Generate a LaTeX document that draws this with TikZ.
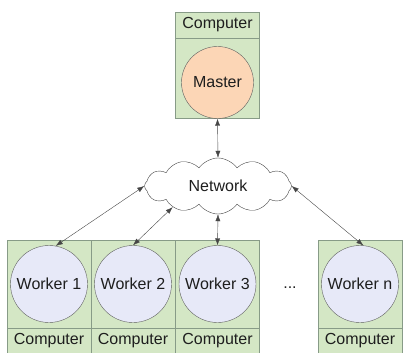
\documentclass[tikz,border=0pt]{standalone}
\usepackage{fontspec}
\setmainfont{Liberation Sans}
\usetikzlibrary{shapes.symbols,arrows.meta}
\definecolor{boxfill}{RGB}{212,231,197}
\definecolor{boxline}{RGB}{135,155,135}
\definecolor{masterfill}{RGB}{252,214,182}
\definecolor{workerfill}{RGB}{231,233,248}
\definecolor{ringline}{RGB}{95,95,95}
\definecolor{wire}{RGB}{70,70,70}
\definecolor{ink}{RGB}{30,30,30}
\begin{document}
\begin{tikzpicture}[x=1pt,y=-1pt,
  font=\fontsize{16}{18}\selectfont, text=ink,
  head/.style={draw=boxline, fill=boxfill, minimum width=84pt, minimum height=26pt, inner sep=0pt},
  body/.style={draw=boxline, fill=boxfill, minimum width=84pt, inner sep=0pt},
  proc/.style={circle, draw=ringline, thin, inner sep=0pt},
  link/.style={draw=wire, thin, {Latex[length=7pt,width=5pt]}-{Latex[length=7pt,width=5pt]}}
]
\useasboundingbox (0,0) rectangle (404,353);

% master computer
\node[head] (h0) at (217.5,25) {Computer};
\node[body, minimum height=80pt] (b0) at (217.5,78) {};
\node[proc, fill=masterfill, minimum size=72pt] (m) at (217.5,82.5) {Master};

% network
\node[cloud, cloud puffs=12, cloud puff arc=110, aspect=2.6, draw=wire, thin, fill=white,
      minimum width=147pt, minimum height=56pt, inner sep=0pt] (net) at (218,186) {Network};

% worker computers
\foreach \i/\cx/\lab in {1/49/Worker 1, 2/133/Worker 2, 3/217.5/Worker 3, 4/360/Worker n}{
  \node[body, minimum height=88pt] (b\i) at (\cx,284) {};
  \node[head] (h\i) at (\cx,341) {Computer};
  \node[proc, fill=workerfill, minimum size=77pt] (w\i) at (\cx,284) {\lab};
}
\node (dots) at (290,288) {...};

% connections
\draw[link] (m.south) -- (net.north);
\draw[link] (net.west) -- (w1.80);
\draw[link] (net.205) -- (w2.north);
\draw[link] (net.south) -- (w3.north);
\draw[link] (net.east) -- (w4.85);
\end{tikzpicture}
\end{document}
